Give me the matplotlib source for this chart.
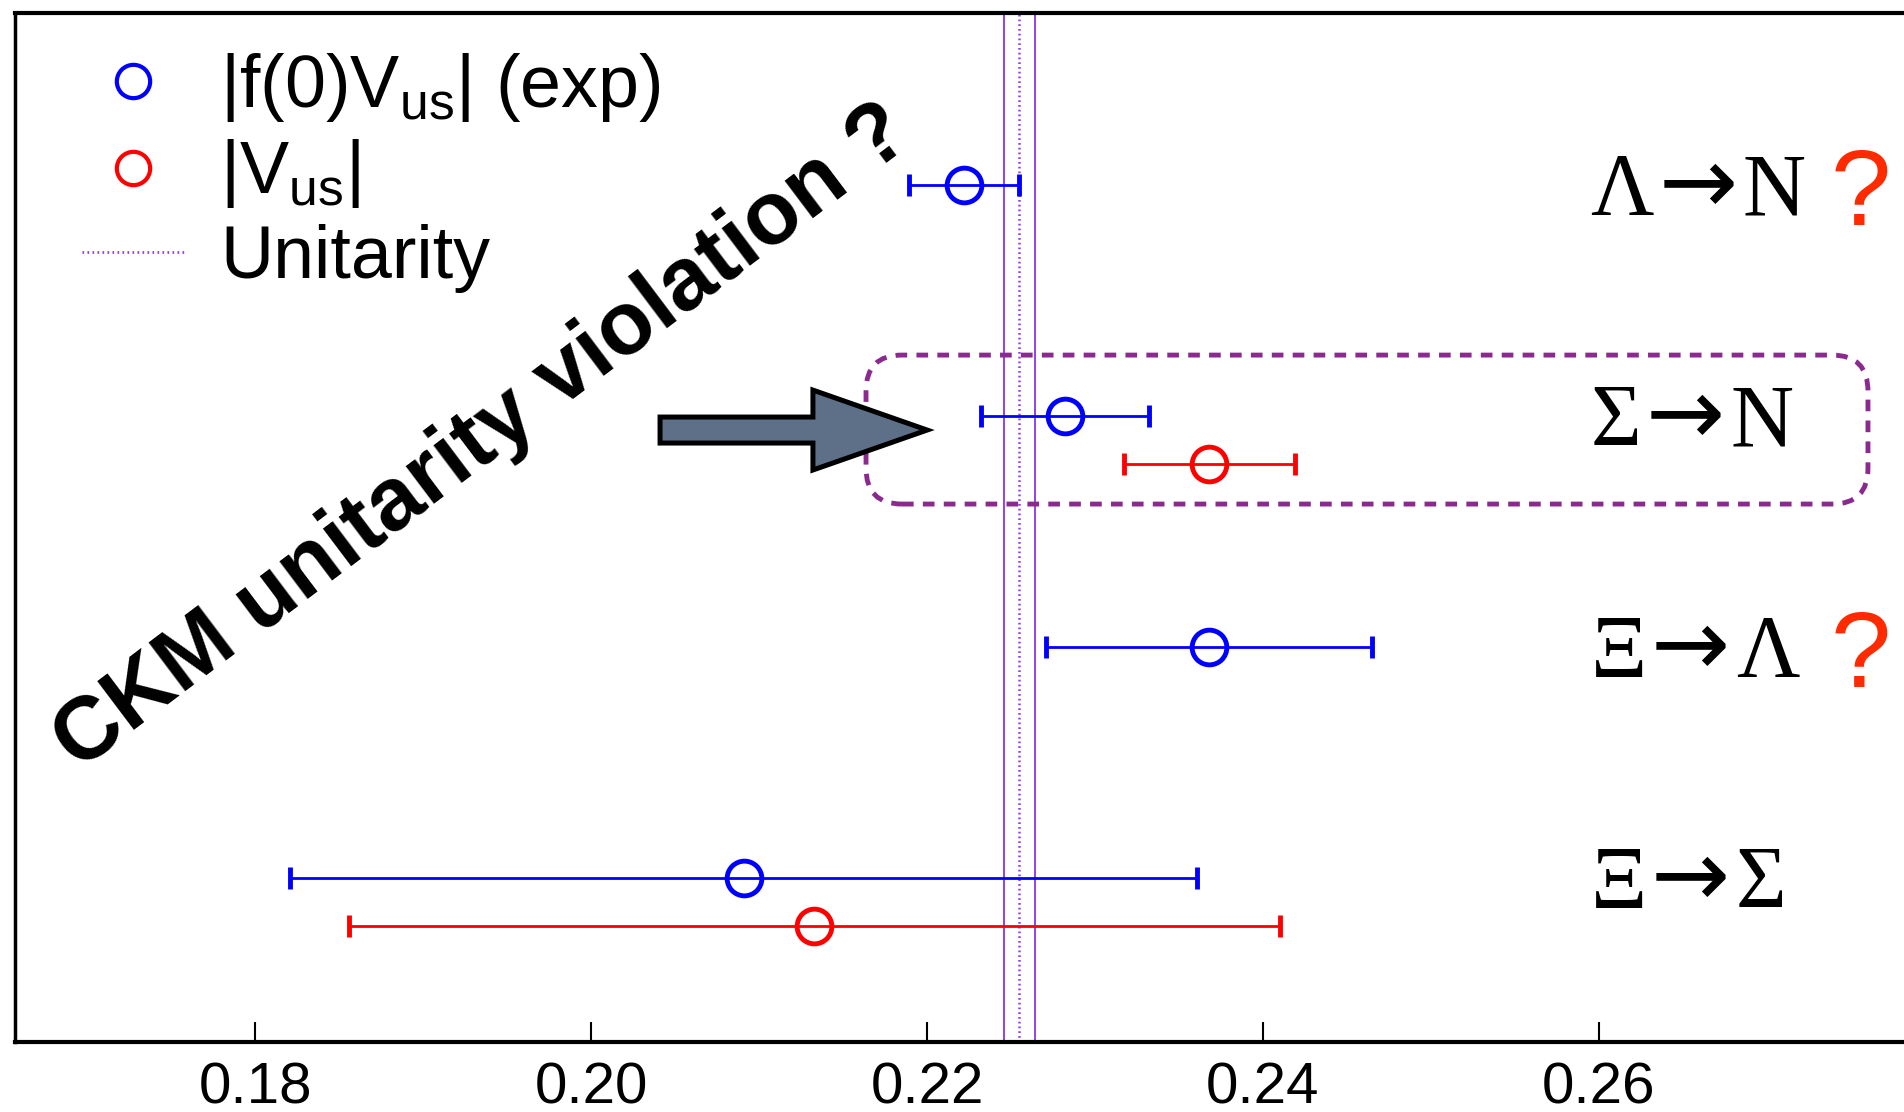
"""
|Vus| from hyperon semileptonic decays compared with CKM unitarity
"""

import matplotlib
matplotlib.use("Agg")
import matplotlib.pyplot as plt
from matplotlib.lines import Line2D
from matplotlib.patches import FancyBboxPatch, FancyArrow
import numpy as np

plt.rcParams['font.family'] = ['Liberation Sans', 'DejaVu Sans']
plt.rcParams['mathtext.fontset'] = 'custom'
plt.rcParams['mathtext.rm'] = 'Liberation Sans'

# data
decays = [('Λ', 'N'), ('Σ', 'N'), ('Ξ', 'Λ'), ('Ξ', 'Σ')]
fvus = [0.2222, 0.2282, 0.2368, 0.2091]          # |f(0)Vus| (exp)
fvus_err = [0.0033, 0.0050, 0.0097, 0.0270]
vus = [np.nan, 0.2368, np.nan, 0.2133]           # |Vus|
vus_err = [np.nan, 0.0051, np.nan, 0.0277]
flagged = [True, False, True, False]             # decays marked with "?"
vus_unitarity = 0.2255
vus_unitarity_err = 0.0009
xticks = [0.18, 0.20, 0.22, 0.24, 0.26]

blue = '#0000ff'
red = '#ff0000'
violet = '#9040f0'
box_purple = '#8b2a8e'

# one row per decay, top to bottom
ypos = np.arange(len(decays))[::-1] + 1.0
red_shift = 0.208

fig = plt.figure(figsize=(19.04, 11.12), dpi=100)
ax = fig.add_axes([15 / 1904, 1 - 1042 / 1112, 1 - 15 / 1904, 1029 / 1112])

# unitarity band
ax.axvline(vus_unitarity - vus_unitarity_err, color=violet, lw=1.4, zorder=2)
ax.axvline(vus_unitarity + vus_unitarity_err, color=violet, lw=1.4, zorder=2)
ax.axvline(vus_unitarity, color=violet, lw=1.8, ls=(0, (0.7, 1.2)), zorder=2)

# measurements
fvus = np.array(fvus)
vus = np.array(vus)
ok = ~np.isnan(vus)
style = dict(fmt='o', mfc='none', ms=25, mew=3.5, elinewidth=2,
             capsize=8, capthick=1.5, zorder=5)
ax.errorbar(fvus, ypos, xerr=fvus_err, mec=blue, ecolor=blue, **style)
ax.errorbar(vus[ok], ypos[ok] - red_shift, xerr=np.array(vus_err)[ok],
            mec=red, ecolor=red, **style)

# decay labels on the right: serif letters, sans arrow chained after them
serif = ['Liberation Serif', 'DejaVu Serif']
for y, (a, b), q in zip(ypos, decays, flagged):
    t1 = ax.text(0.2595, y - 0.126, a, fontsize=63, va='baseline', ha='left',
                 family=serif)
    t2 = ax.annotate('→', xy=(1, 0), xycoords=t1, xytext=(3, 0),
                     textcoords='offset points', fontsize=68, va='bottom',
                     ha='left', family='DejaVu Sans')
    ax.annotate(b, xy=(1, 0), xycoords=t2, xytext=(4, 0),
                textcoords='offset points', fontsize=63, va='bottom',
                ha='left', family=serif)
    if q:
        ax.text(0.2738, y - 0.173, '?', fontsize=78, va='baseline', ha='left',
                color='#ff2a00')

# dashed rounded box round the Sigma -> N row
ys = ypos[1]
box = FancyBboxPatch((0.21637, ys - 0.381), 0.05964, 0.645,
                     boxstyle="round,pad=0,rounding_size=0.00214",
                     mutation_aspect=72.7, fill=False, ec=box_purple,
                     lw=3.5, ls=(0, (2.4, 1.9)), zorder=3)
ax.add_patch(box)

# block arrow pointing at the box
arrow = FancyArrow(0.20411, ys - 0.0606, 0.0159, 0, width=0.1126,
                   head_width=0.346, head_length=0.0068,
                   length_includes_head=True, fc='#5e7088', ec='black',
                   lw=3.6, joinstyle='miter', zorder=4)
ax.add_patch(arrow)

ax.text(0.19360, 2.905, 'CKM unitarity violation ?', fontsize=64,
        fontweight='bold', rotation=37, rotation_mode='anchor',
        ha='center', va='center', zorder=6)

# legend
handles = [
    Line2D([], [], ls='none', marker='o', mfc='none', mec=blue, ms=24, mew=3),
    Line2D([], [], ls='none', marker='o', mfc='none', mec=red, ms=24, mew=3),
    Line2D([], [], color=violet, lw=2, ls=(0, (0.6, 1.2))),
]
labels = ['|f(0)V$_{\\mathregular{us}}$| (exp)', '|V$_{\\mathregular{us}}$|', 'Unitarity']
ax.legend(handles, labels, loc='upper left', bbox_to_anchor=(0.0355, 0.963),
          frameon=False, fontsize=53, handlelength=1.38, handletextpad=0.5,
          labelspacing=0.18, borderpad=0, borderaxespad=0)

ax.set_xlim(0.165714, 0.278155)
ax.set_ylim(0.290, 4.745)
ax.set_xticks(xticks)
ax.set_xticklabels([f'{t:.2f}' for t in xticks])
ax.set_yticks([])
ax.tick_params(axis='x', direction='in', length=14.4, width=1.5,
               labelsize=42, pad=14)
ax.spines['right'].set_visible(False)
ax.spines['bottom'].set_linewidth(3)
ax.spines['top'].set_linewidth(3)
ax.spines['left'].set_linewidth(2.5)

fig.savefig('out.png', dpi=100)
